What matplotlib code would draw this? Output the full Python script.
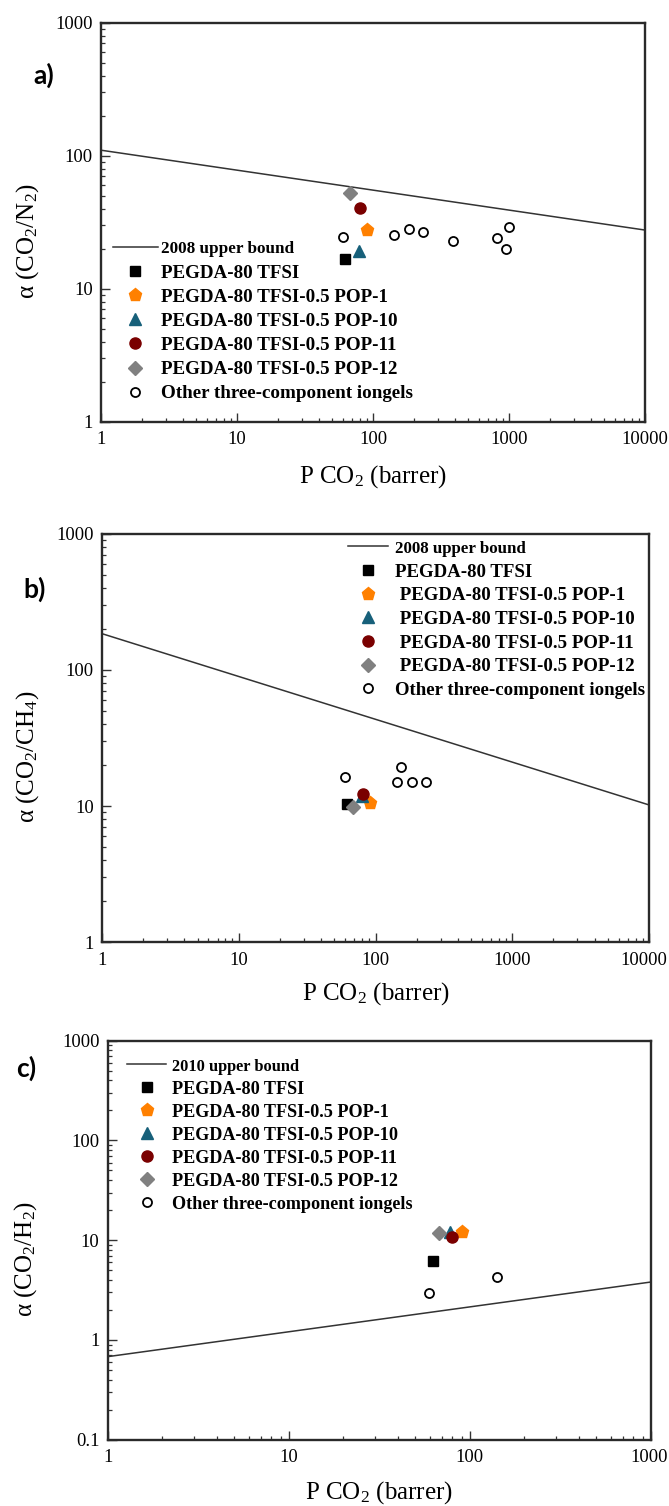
import numpy as np
import matplotlib
matplotlib.use('Agg')
import matplotlib.pyplot as plt
from matplotlib.ticker import LogLocator, NullFormatter, FuncFormatter
from matplotlib.transforms import ScaledTranslation

plt.rcParams['font.family'] = ['Liberation Serif', 'DejaVu Serif']
plt.rcParams['mathtext.fontset'] = 'custom'
plt.rcParams['mathtext.rm'] = 'Liberation Serif'
plt.rcParams['mathtext.it'] = 'Liberation Serif:italic'
plt.rcParams['mathtext.bf'] = 'Liberation Serif:bold'

# ==========================================
# DATA
# ==========================================
series_names = ["PEGDA-80 TFSI",
                "PEGDA-80 TFSI-0.5 POP-1",
                "PEGDA-80 TFSI-0.5 POP-10",
                "PEGDA-80 TFSI-0.5 POP-11",
                "PEGDA-80 TFSI-0.5 POP-12"]
other_name = "Other three-component iongels"

# a) CO2/N2
a_px = [62, 91, 79, 80, 68]
a_alpha = [16.7, 27.8, 19.3, 40.4, 52.7]
a_other_px = [59.7, 142, 185, 232, 389, 822, 1007, 950]
a_other_alpha = [24.6, 25.5, 28.3, 26.8, 22.8, 24.0, 28.9, 19.9]
a_bound_px = [1, 10000]
a_bound_alpha = [110, 27.6]

# b) CO2/CH4
b_px = [61.7, 91, 79, 80.5, 68]
b_alpha = [10.3, 10.6, 11.8, 12.2, 9.9]
b_other_px = [60, 154, 142.5, 185, 233]
b_other_alpha = [16.4, 19.3, 15.0, 15.0, 15.0]
b_bound_px = [1, 10000]
b_bound_alpha = [184.5, 10.2]

# c) CO2/H2
c_px = [62.2, 90.6, 78, 79.5, 67.9]
c_alpha = [6.18, 12.1, 12.0, 10.8, 11.9]
c_other_px = [59.6, 142]
c_other_alpha = [2.95, 4.3]
c_bound_px = [1, 1000]
c_bound_alpha = [0.68, 3.81]

# ==========================================
# STYLE
# ==========================================
markers = ['s', 'p', '^', 'o', 'D']
colors = ['#000000', '#FF8000', '#17607A', '#7A0000', '#808080']
sizes = [7.5, 9.5, 9, 8, 7]

W, H = 669, 1506
fig = plt.figure(figsize=(W / 100, H / 100), dpi=100)


def make_axes(left, right, top, bottom):
    return fig.add_axes([left / W, 1 - bottom / H, (right - left) / W, (bottom - top) / H])


def style_axes(ax, xlim, ylim):
    ax.set_xscale('log')
    ax.set_yscale('log')
    ax.set_xlim(*xlim)
    ax.set_ylim(*ylim)
    for s in ax.spines.values():
        s.set_linewidth(1.7)
        s.set_color('#2a2a2a')
    fmt = FuncFormatter(lambda v, p: '%g' % v)
    for axis in (ax.xaxis, ax.yaxis):
        axis.set_major_locator(LogLocator(base=10, numticks=20))
        axis.set_minor_locator(LogLocator(base=10, subs=np.arange(2, 10), numticks=20))
        axis.set_major_formatter(fmt)
        axis.set_minor_formatter(NullFormatter())
    ax.tick_params(which='major', direction='in', length=6.5, width=1.0, color='#333333',
                   labelsize=13.3, top=False, right=False)
    ax.tick_params(axis='x', which='major', pad=7)
    ax.tick_params(axis='y', which='major', pad=6)
    ax.tick_params(which='minor', direction='in', length=3.2, width=0.9, color='#333333',
                   top=False, right=False)


def draw_panel(ax, px, alpha, opx, oalpha, bx, by, bound_label, labels):
    ax.plot(bx, by, color='#333333', lw=1.1, label=bound_label)
    for i in range(len(px)):
        ax.plot(px[i], alpha[i], linestyle='none', marker=markers[i], ms=sizes[i],
                color=colors[i], mec=colors[i], label=labels[i])
    ax.plot(opx, oalpha, linestyle='none', marker='o', ms=6.5, mfc='white',
            mec='black', mew=1.3, label=other_name)


def add_legend(ax, anchor, fs, fs_first, hl, htp, ls):
    leg = ax.legend(loc='upper left', bbox_to_anchor=anchor, frameon=False,
                    borderpad=0, borderaxespad=0, handlelength=hl, handletextpad=htp,
                    labelspacing=ls,
                    prop={'family': 'Liberation Serif', 'weight': 'bold', 'size': fs})
    leg.get_texts()[0].set_fontsize(fs_first)
    return leg


def add_labels(ax, ylab, h_px, w_px, ylab_x_px, xlab_off_px):
    ax.text(0.5, -xlab_off_px / h_px, 'P CO$_2$ (barrer)', transform=ax.transAxes,
            ha='center', va='center', fontsize=18)
    ax.text(ylab_x_px / w_px, 0.5 - 19 / h_px, ylab, transform=ax.transAxes,
            rotation=90, ha='center', va='center', fontsize=18)


def nudge_last_xlabel(ax, dx_px):
    # keep the right-most tick label inside the canvas
    lab = ax.xaxis.get_majorticklabels()
    ticks = ax.get_xticks()
    xmax = ax.get_xlim()[1]
    for t, l in zip(ticks, lab):
        if np.isclose(t, xmax):
            l.set_transform(l.get_transform() + ScaledTranslation(dx_px / 100, 0, fig.dpi_scale_trans))


# ---------- a) ----------
ax_a = make_axes(101, 645, 22.7, 421.7)
style_axes(ax_a, (1, 10000), (1, 1000))
draw_panel(ax_a, a_px, a_alpha, a_other_px, a_other_alpha, a_bound_px, a_bound_alpha,
           '2008 upper bound', series_names)
add_legend(ax_a, (0.022, 0.455), 13.7, 12.3, 2.35, 0.2, 0.36)
add_labels(ax_a, 'α (CO$_2$/N$_2$)', 399, 544, 28 - 101, 55)
fig.text(33 / W, 1 - 75 / H, 'a)', fontsize=19, fontweight='bold', family='Lato',
         ha='left', va='center')

# ---------- b) ----------
labels_b = [series_names[0]] + [' ' + n for n in series_names[1:]]
ax_b = make_axes(102, 649, 533.7, 942.3)
style_axes(ax_b, (1, 10000), (1, 1000))
draw_panel(ax_b, b_px, b_alpha, b_other_px, b_other_alpha, b_bound_px, b_bound_alpha,
           '2008 upper bound', labels_b)
add_legend(ax_b, (0.45, 0.985), 13.6, 12.2, 2.1, 0.37, 0.34)
add_labels(ax_b, 'α (CO$_2$/CH$_4$)', 408.6, 547, 28 - 102, 51)
fig.text(23 / W, 1 - 589 / H, 'b)', fontsize=19, fontweight='bold', family='Lato',
         ha='left', va='center')

# ---------- c) ----------
ax_c = make_axes(107.7, 651, 1040.7, 1439.7)
style_axes(ax_c, (1, 1000), (0.1, 1000))
draw_panel(ax_c, c_px, c_alpha, c_other_px, c_other_alpha, c_bound_px, c_bound_alpha,
           '2010 upper bound', series_names)
add_legend(ax_c, (0.0355, 0.957), 13.1, 11.8, 2.15, 0.33, 0.33)
add_labels(ax_c, 'α (CO$_2$/H$_2$)', 399, 543.3, 26 - 107.7, 53)
fig.text(16 / W, 1 - 1068 / H, 'c)', fontsize=19, fontweight='bold', family='Lato',
         ha='left', va='center')

fig.canvas.draw()
nudge_last_xlabel(ax_b, -5)
nudge_last_xlabel(ax_c, -2)

fig.savefig('out.png', dpi=100, facecolor='white')
